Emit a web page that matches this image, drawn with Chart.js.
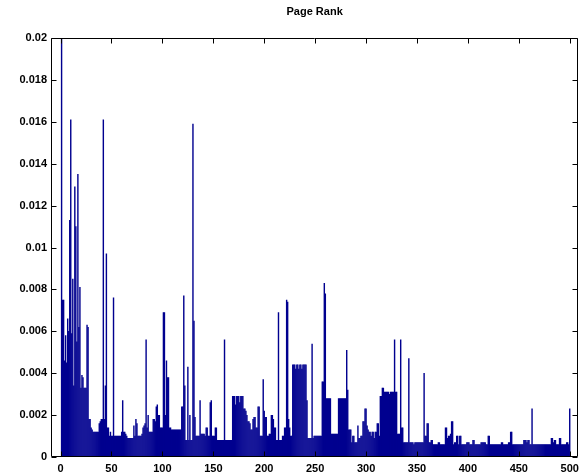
<!DOCTYPE html>
<html>
<head>
<meta charset="utf-8">
<script src="https://cdn.jsdelivr.net/npm/chart.js@4/dist/chart.umd.min.js"></script>
<style>
  html, body { margin: 0; padding: 0; background: #fff; }
  #wrap { width: 584px; height: 476px; }
</style>
</head>
<body>
<div id="wrap"><canvas id="c" width="584" height="476"></canvas></div>
<script>
const chartTitle = 'Page Rank';
const xTicks = [0, 50, 100, 150, 200, 250, 300, 350, 400, 450, 500];
const yTicks = [0, 0.002, 0.004, 0.006, 0.008, 0.01, 0.012, 0.014, 0.016, 0.018, 0.02];
const yTickLabels = ['0', '0.002', '0.004', '0.006', '0.008', '0.01', '0.012', '0.014', '0.016', '0.018', '0.02'];

// page rank of nodes 1..500
const pageRank = [
  0.025, 0.0075, 0.0075, 0.0046, 0.0058, 0.0045, 0.0066, 0.0060, 0.0113, 0.0161,
  0.0059, 0.0085, 0.0034, 0.0129, 0.0110, 0.0055, 0.0135, 0.0062, 0.0081, 0.0033,
  0.0039, 0.0038, 0.0033, 0.0033, 0.0033, 0.0063, 0.0062, 0.0018, 0.0018, 0.0014,
  0.0013, 0.0012, 0.0012, 0.0012, 0.0012, 0.0012, 0.0012, 0.0016, 0.0017, 0.0018,
  0.0018, 0.0161, 0.0018, 0.0034, 0.0097, 0.0014, 0.0014, 0.0010, 0.0012, 0.0010,
  0.0010, 0.0076, 0.0010, 0.0010, 0.0010, 0.0010, 0.0010, 0.0010, 0.0010, 0.0012,
  0.0027, 0.0012, 0.0012, 0.0011, 0.0010, 0.0009, 0.0009, 0.0009, 0.0009, 0.0009,
  0.0009, 0.0015, 0.0010, 0.0018, 0.0016, 0.0010, 0.0010, 0.0010, 0.0010, 0.0011,
  0.0014, 0.0015, 0.0016, 0.0056, 0.0014, 0.0020, 0.0012, 0.0012, 0.0012, 0.0012,
  0.0018, 0.0018, 0.0017, 0.0024, 0.0025, 0.0020, 0.0020, 0.0014, 0.0014, 0.0014,
  0.0069, 0.0069, 0.0020, 0.0046, 0.0038, 0.0038, 0.0014, 0.0014, 0.0013, 0.0013,
  0.0013, 0.0013, 0.0013, 0.0013, 0.0013, 0.0013, 0.0013, 0.0013, 0.0024, 0.0024,
  0.0077, 0.0034, 0.0008, 0.0008, 0.0043, 0.0008, 0.0020, 0.0008, 0.0008, 0.0159,
  0.0065, 0.0019, 0.0010, 0.0010, 0.0010, 0.0010, 0.0027, 0.0011, 0.0011, 0.0011,
  0.0011, 0.0010, 0.0014, 0.0014, 0.0010, 0.0010, 0.0026, 0.0027, 0.0010, 0.0010,
  0.0010, 0.0014, 0.0014, 0.0008, 0.0008, 0.0008, 0.0008, 0.0008, 0.0008, 0.0008,
  0.0056, 0.0008, 0.0008, 0.0008, 0.0008, 0.0008, 0.0008, 0.0008, 0.0029, 0.0029,
  0.0029, 0.0025, 0.0029, 0.0029, 0.0029, 0.0026, 0.0029, 0.0029, 0.0029, 0.0023,
  0.0023, 0.0022, 0.0020, 0.0017, 0.0017, 0.0016, 0.0013, 0.0013, 0.0018, 0.0019,
  0.0019, 0.0014, 0.0014, 0.0024, 0.0024, 0.0010, 0.0010, 0.0010, 0.0037, 0.0022,
  0.0019, 0.0019, 0.0010, 0.0010, 0.0011, 0.0011, 0.0020, 0.0020, 0.0018, 0.0014,
  0.0014, 0.0008, 0.0008, 0.0069, 0.0008, 0.0008, 0.0008, 0.0010, 0.0010, 0.0014,
  0.0014, 0.0075, 0.0074, 0.0018, 0.0014, 0.0010, 0.0010, 0.0044, 0.0044, 0.0044,
  0.0042, 0.0044, 0.0044, 0.0042, 0.0044, 0.0044, 0.0042, 0.0044, 0.0044, 0.0044,
  0.0044, 0.0027, 0.0009, 0.0009, 0.0009, 0.0009, 0.0054, 0.0009, 0.0010, 0.0010,
  0.0010, 0.0010, 0.0010, 0.0010, 0.0010, 0.0010, 0.0036, 0.0036, 0.0083, 0.0078,
  0.0028, 0.0028, 0.0028, 0.0028, 0.0028, 0.0011, 0.0011, 0.0011, 0.0011, 0.0011,
  0.0011, 0.0011, 0.0028, 0.0028, 0.0028, 0.0028, 0.0028, 0.0028, 0.0028, 0.0028,
  0.0051, 0.0032, 0.0013, 0.0013, 0.0013, 0.0007, 0.0010, 0.0010, 0.0007, 0.0007,
  0.0007, 0.0015, 0.0009, 0.0009, 0.0010, 0.0010, 0.0017, 0.0017, 0.0023, 0.0023,
  0.0015, 0.0013, 0.0012, 0.0012, 0.0010, 0.0012, 0.0012, 0.0009, 0.0012, 0.0012,
  0.0016, 0.0016, 0.0010, 0.0029, 0.0029, 0.0033, 0.0033, 0.0031, 0.0031, 0.0031,
  0.0031, 0.0031, 0.0030, 0.0031, 0.0031, 0.0031, 0.0031, 0.0056, 0.0031, 0.0031,
  0.0011, 0.0011, 0.0011, 0.0056, 0.0014, 0.0014, 0.0007, 0.0007, 0.0007, 0.0007,
  0.0007, 0.0047, 0.0007, 0.0007, 0.0007, 0.0007, 0.0006, 0.0007, 0.0007, 0.0007,
  0.0007, 0.0007, 0.0007, 0.0007, 0.0007, 0.0007, 0.0040, 0.0010, 0.0010, 0.0016,
  0.0016, 0.0007, 0.0007, 0.0008, 0.0008, 0.0006, 0.0006, 0.0006, 0.0006, 0.0006,
  0.0007, 0.0007, 0.0006, 0.0006, 0.0006, 0.0006, 0.0006, 0.0014, 0.0014, 0.0009,
  0.0010, 0.0010, 0.0011, 0.0017, 0.0017, 0.0006, 0.0007, 0.0007, 0.0010, 0.0010,
  0.0006, 0.0010, 0.0010, 0.0006, 0.0006, 0.0006, 0.0006, 0.0006, 0.0007, 0.0007,
  0.0007, 0.0006, 0.0006, 0.0006, 0.0008, 0.0008, 0.0006, 0.0006, 0.0006, 0.0006,
  0.0006, 0.0006, 0.0007, 0.0007, 0.0007, 0.0007, 0.0007, 0.0006, 0.0006, 0.0010,
  0.0010, 0.0006, 0.0006, 0.0006, 0.0006, 0.0006, 0.0006, 0.0006, 0.0006, 0.0006,
  0.0006, 0.0006, 0.0007, 0.0007, 0.0006, 0.0006, 0.0006, 0.0006, 0.0006, 0.0007,
  0.0007, 0.0012, 0.0012, 0.0006, 0.0006, 0.0006, 0.0006, 0.0006, 0.0006, 0.0006,
  0.0006, 0.0006, 0.0006, 0.0006, 0.0008, 0.0008, 0.0008, 0.0007, 0.0008, 0.0008,
  0.0006, 0.0006, 0.0023, 0.0006, 0.0006, 0.0006, 0.0006, 0.0006, 0.0006, 0.0006,
  0.0006, 0.0006, 0.0006, 0.0006, 0.0006, 0.0006, 0.0006, 0.0006, 0.0006, 0.0006,
  0.0006, 0.0009, 0.0009, 0.0007, 0.0008, 0.0008, 0.0006, 0.0006, 0.0006, 0.0009,
  0.0009, 0.0006, 0.0006, 0.0006, 0.0006, 0.0006, 0.0007, 0.0007, 0.0006, 0.0023
];
const nodeIndex = pageRank.map((_, i) => i + 1);

const FONT = 'Liberation Sans, Arial, Helvetica, sans-serif';

const boxPlugin = {
  id: 'matlabBox',
  afterDraw(chart) {
    const ctx = chart.ctx;
    const a = chart.chartArea;
    const xs = chart.scales.x, ys = chart.scales.y;
    const L = Math.round(a.left) + 0.5, R = Math.round(a.right) - 0.5;
    const T = Math.round(a.top) + 0.5, B = Math.round(a.bottom) - 0.5;
    const tl = 5;
    ctx.save();
    ctx.strokeStyle = '#000';
    ctx.lineWidth = 1;
    ctx.beginPath();
    ctx.rect(L, T, R - L, B - T);
    xTicks.forEach(v => {
      const p = Math.round(xs.getPixelForValue(v)) + 0.5;
      ctx.moveTo(p, B); ctx.lineTo(p, B - tl);
      ctx.moveTo(p, T); ctx.lineTo(p, T + tl);
    });
    yTicks.forEach(v => {
      const p = Math.round(ys.getPixelForValue(v)) + 0.5;
      ctx.moveTo(L, p); ctx.lineTo(L + tl, p);
      ctx.moveTo(R, p); ctx.lineTo(R - tl, p);
    });
    ctx.stroke();
    ctx.restore();
  }
};

new Chart(document.getElementById('c'), {
  type: 'bar',
  data: {
    labels: nodeIndex,
    datasets: [{
      data: pageRank,
      backgroundColor: '#00008f',
      borderWidth: 0,
      barPercentage: 1.0,
      categoryPercentage: 1.0,
      inflateAmount: 0.2
    }]
  },
  options: {
    responsive: false,
    animation: false,
    devicePixelRatio: 1,
    layout: { padding: { left: 0, right: 4, top: 0, bottom: 0 } },
    plugins: {
      legend: { display: false },
      tooltip: { enabled: false },
      title: {
        display: true,
        text: chartTitle,
        fullSize: false,
        color: '#000',
        font: { family: FONT, size: 11, weight: 'bold' },
        padding: { top: 5.4, bottom: 19.4 }
      }
    },
    scales: {
      x: {
        type: 'linear',
        min: -9.4,
        max: 508.4,
        offset: false,
        grid: { display: false, drawTicks: false },
        border: { display: false },
        ticks: {
          color: '#000',
          font: { family: FONT, size: 11, weight: 'bold' },
          padding: 5,
          maxRotation: 0,
          autoSkip: false
        },
        afterBuildTicks: s => { s.ticks = xTicks.map(v => ({ value: v })); },
        afterFit: s => { s.height = 19; }
      },
      y: {
        min: 0,
        max: 0.02,
        grid: { display: false, drawTicks: false },
        border: { display: false },
        ticks: {
          color: '#000',
          font: { family: FONT, size: 11, weight: 'bold' },
          padding: 4,
          autoSkip: false,
          callback: (v, i) => yTickLabels[i]
        },
        afterBuildTicks: s => { s.ticks = yTicks.map(v => ({ value: v })); },
        afterFit: s => { s.width = 51; }
      }
    }
  },
  plugins: [boxPlugin]
});
</script>
</body>
</html>
